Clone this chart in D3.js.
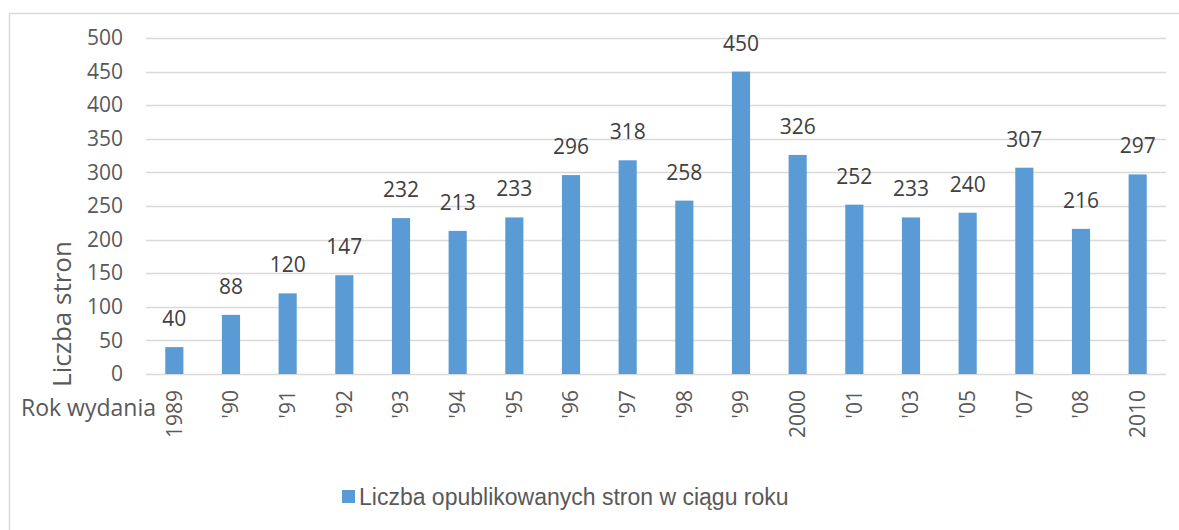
<!DOCTYPE html>
<html>
<head>
<meta charset="utf-8">
<script src="https://cdn.jsdelivr.net/npm/d3@7"></script>
<style>
  body { margin: 0; background: #fff; }
  svg { display: block; }
</style>
</head>
<body>
<div class="visuals"></div>
<script>
// data
const years = ["1989", "'90", "'91", "'92", "'93", "'94", "'95", "'96", "'97", "'98", "'99", "2000", "'01", "'03", "'05", "'07", "'08", "2010"];
const pages = [40, 88, 120, 147, 232, 213, 233, 296, 318, 258, 450, 326, 252, 233, 240, 307, 216, 297];
const yTicks = [0, 50, 100, 150, 200, 250, 300, 350, 400, 450, 500];
const yTitle = "Liczba stron";
const xTitle = "Rok wydania";
const seriesName = "Liczba opublikowanych stron w ciągu roku";

const width = 1179;
const height = 530;
const plotLeft = 146, plotRight = 1166, plotTop = 38, plotBottom = 374;

const svg = d3.select(".visuals")
  .append("svg")
  .attr("width", width)
  .attr("height", height);

// chart border
svg.append("rect")
  .attr("x", 9.5).attr("y", 13.5)
  .attr("width", 1200).attr("height", 600)
  .attr("fill", "none")
  .attr("stroke", "#d9d9d9")
  .attr("stroke-width", 1.5);

const x = d3.scaleBand()
  .domain(years)
  .range([plotLeft, plotRight])
  .paddingInner(0.68)
  .paddingOuter(0.34);

const y = d3.scaleLinear()
  .domain([0, 500])
  .range([plotBottom, plotTop]);

// gridlines
svg.append("g")
  .selectAll("line")
  .data(yTicks)
  .enter()
  .append("line")
  .attr("x1", plotLeft).attr("x2", plotRight)
  .attr("y1", d => Math.round(y(d)) + 0.5)
  .attr("y2", d => Math.round(y(d)) + 0.5)
  .attr("stroke", "#d9d9d9")
  .attr("stroke-width", 1.5);

// y tick labels
const yAxis = svg.append("g")
  .attr("transform", "translate(" + (plotLeft - 23) + ",0)")
  .call(d3.axisLeft(y).tickValues(yTicks).tickSize(0).tickPadding(0));
yAxis.select(".domain").remove();
yAxis.selectAll("text")
  .attr("fill", "#595959")
  .style("font-family", "'Open Sans', sans-serif")
  .style("font-size", "21px");

// x tick labels, rotated
const xAxis = svg.append("g")
  .attr("transform", "translate(0," + plotBottom + ")")
  .call(d3.axisBottom(x).tickSize(0).tickPadding(0));
xAxis.select(".domain").remove();
xAxis.selectAll("text")
  .attr("transform", "rotate(-90)")
  .attr("x", -16)
  .attr("y", 0)
  .attr("dy", "0.35em")
  .attr("text-anchor", "end")
  .attr("fill", "#595959")
  .style("font-family", "'Open Sans', sans-serif")
  .style("font-size", "21px");

// bars
svg.selectAll("rect.bar")
  .data(pages)
  .enter()
  .append("rect")
  .attr("class", "bar")
  .attr("x", (d, i) => x(years[i]))
  .attr("y", d => y(d))
  .attr("width", x.bandwidth())
  .attr("height", d => plotBottom - y(d))
  .attr("fill", "#5b9bd5");

// value labels
svg.selectAll("text.val")
  .data(pages)
  .enter()
  .append("text")
  .attr("class", "val")
  .attr("x", (d, i) => x(years[i]) + x.bandwidth() / 2)
  .attr("y", d => y(d) - 21)
  .attr("text-anchor", "middle")
  .attr("fill", "#404040")
  .style("font-family", "'Open Sans', sans-serif")
  .style("font-size", "21px")
  .text(d => d);

// axis titles
svg.append("text")
  .attr("transform", "translate(71,314) rotate(-90)")
  .attr("text-anchor", "middle")
  .attr("fill", "#595959")
  .style("font-family", "'Open Sans', sans-serif")
  .style("font-size", "26px")
  .text(yTitle);

svg.append("text")
  .attr("x", 156).attr("y", 416)
  .attr("text-anchor", "end")
  .attr("fill", "#595959")
  .style("font-family", "'Open Sans', sans-serif")
  .style("font-size", "23px")
  .text(xTitle);

// legend
svg.append("rect")
  .attr("x", 342).attr("y", 490)
  .attr("width", 13).attr("height", 13)
  .attr("fill", "#5b9bd5");
svg.append("text")
  .attr("x", 359).attr("y", 505)
  .attr("fill", "#595959")
  .style("font-family", "'Liberation Sans', Arial, sans-serif")
  .style("font-size", "23px")
  .text(seriesName);
</script>
</body>
</html>
